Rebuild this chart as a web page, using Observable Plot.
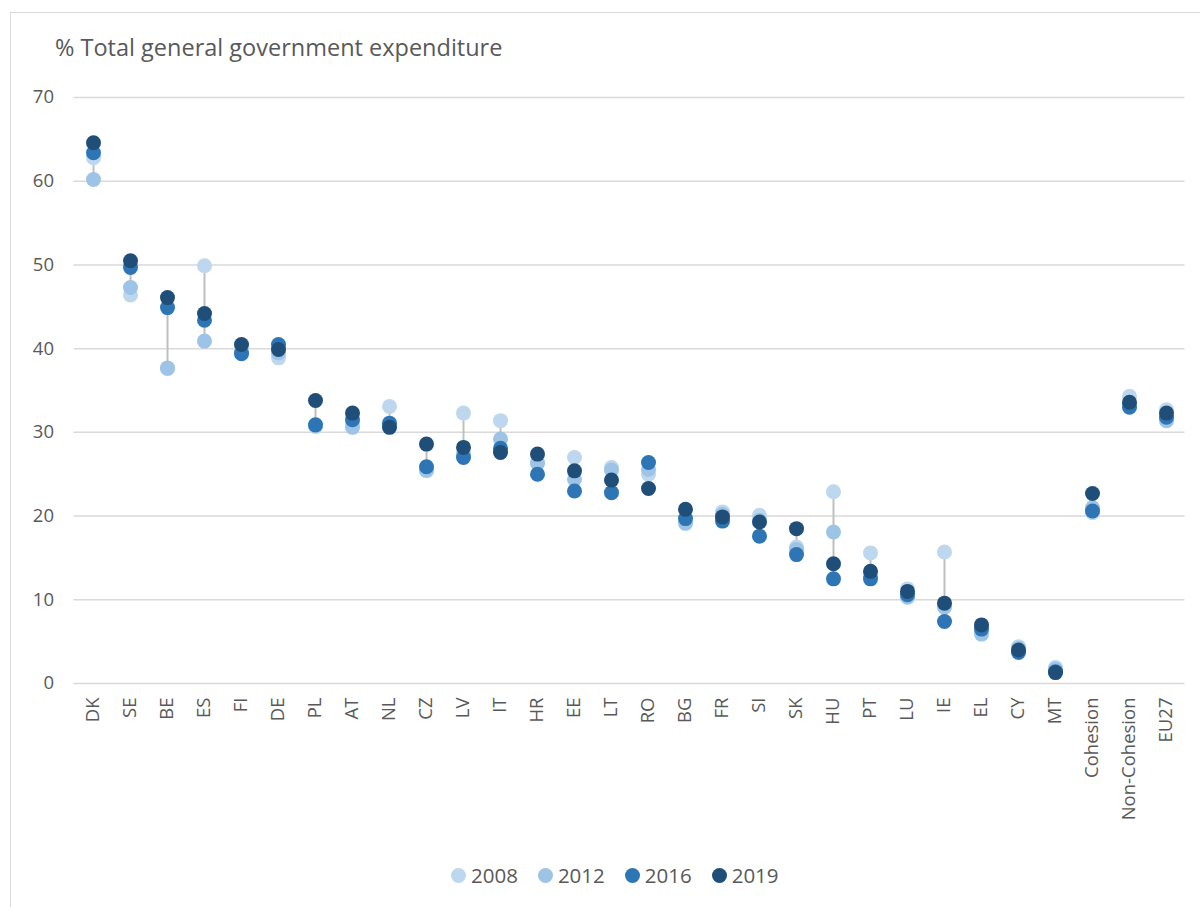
<!DOCTYPE html>
<html>
<head>
<meta charset="utf-8">
<script src="https://cdn.jsdelivr.net/npm/d3@7"></script>
<script src="https://cdn.jsdelivr.net/npm/@observablehq/plot@0.6"></script>
<style>
  html, body { margin: 0; padding: 0; background: #fff; }
  body { width: 1200px; height: 907px; position: relative; overflow: hidden; font-family: "Open Sans", sans-serif; color: #595959; }
  #frame { position: absolute; left: 10px; top: 12px; width: 1300px; height: 1000px; border: 1px solid #D9D9D9; box-sizing: border-box; }
  #chart { position: absolute; left: 0; top: 0; }
  #title { position: absolute; left: 55px; top: 31px; font-size: 23.5px; white-space: nowrap; }
  #legend { position: absolute; left: 451px; top: 861px; display: flex; align-items: center; font-size: 20.5px; }
  .item { display: flex; align-items: center; margin-right: 20px; }
  .sw { width: 15px; height: 15px; border-radius: 50%; margin-right: 5px; }
</style>
</head>
<body>
<div id="frame"></div>
<div id="chart"></div>
<div id="title">% Total general government expenditure</div>
<div id="legend"></div>
<script>
// Expenditure share by country, four reference years
const categories = ["DK","SE","BE","ES","FI","DE","PL","AT","NL","CZ","LV","IT","HR","EE","LT","RO","BG","FR","SI","SK","HU","PT","LU","IE","EL","CY","MT","Cohesion","Non-Cohesion","EU27"];
const years = ["2008", "2012", "2016", "2019"];
const v2008 = [62.8, 46.4, 37.6, 49.9, 40.0, 38.9, 30.7, 31.0, 33.1, 25.4, 32.3, 31.4, 26.4, 27.0, 25.8, 25.0, 19.1, 20.5, 20.1, 16.3, 22.9, 15.6, 11.3, 15.7, 6.6, 4.4, 1.9, 20.4, 34.3, 32.7];
const v2012 = [60.2, 47.3, 37.7, 40.9, 39.6, 39.5, 30.8, 30.6, 31.0, 25.5, 27.5, 29.2, 26.3, 24.4, 25.5, 25.6, 19.2, 20.2, 19.5, 16.0, 18.1, 12.8, 10.3, 9.1, 5.9, 4.2, 1.7, 21.0, 33.3, 31.4];
const v2016 = [63.4, 49.7, 44.9, 43.4, 39.4, 40.5, 30.9, 31.5, 31.1, 25.9, 27.0, 28.1, 25.0, 23.0, 22.8, 26.4, 19.7, 19.4, 17.6, 15.4, 12.5, 12.5, 10.6, 7.4, 6.5, 3.7, 1.4, 20.6, 33.0, 31.8];
const v2019 = [64.6, 50.5, 46.1, 44.2, 40.5, 39.9, 33.8, 32.3, 30.6, 28.6, 28.2, 27.6, 27.4, 25.4, 24.3, 23.3, 20.8, 19.9, 19.3, 18.5, 14.3, 13.4, 11.0, 9.6, 7.0, 4.0, 1.3, 22.7, 33.6, 32.3];
const yTicks = [0, 10, 20, 30, 40, 50, 60, 70];
const colors = ["#BDD7EE", "#9DC3E6", "#2E75B6", "#1F4E79"];

const series = [v2008, v2012, v2016, v2019];
const rows = years.flatMap((yr, j) => categories.map((c, i) => ({cat: c, year: yr, value: series[j][i]})));
const ranges = categories.map((c, i) => {
  const vals = series.map(s => s[i]);
  return {cat: c, lo: Math.min(...vals), hi: Math.max(...vals)};
});

const chart = Plot.plot({
  width: 1200,
  height: 830,
  marginLeft: 73.5,
  marginRight: 15.5,
  marginTop: 97,
  marginBottom: 147,
  style: {fontFamily: "'Open Sans', sans-serif", fontSize: "18.5px", color: "#595959", background: "transparent"},
  x: {type: "point", domain: categories, padding: 0.5},
  y: {domain: [0, 70]},
  color: {domain: years, range: colors},
  marks: [
    Plot.gridY(yTicks, {stroke: "#D9D9D9", strokeOpacity: 1, strokeWidth: 1.5}),
    Plot.axisY(yTicks, {tickSize: 0, tickPadding: 20, label: null}),
    Plot.axisX({tickSize: 0, tickRotate: -90, tickPadding: 14, label: null}),
    Plot.ruleX(ranges, {x: "cat", y1: "lo", y2: "hi", stroke: "#BFBFBF", strokeWidth: 2}),
    Plot.dot(rows, {x: "cat", y: "value", fill: "year", r: 7.5})
  ]
});
document.getElementById("chart").appendChild(chart);

const legend = d3.select("#legend");
years.forEach((yr, j) => {
  const item = legend.append("div").attr("class", "item");
  item.append("div").attr("class", "sw").style("background", colors[j]);
  item.append("span").text(yr);
});
</script>
</body>
</html>
